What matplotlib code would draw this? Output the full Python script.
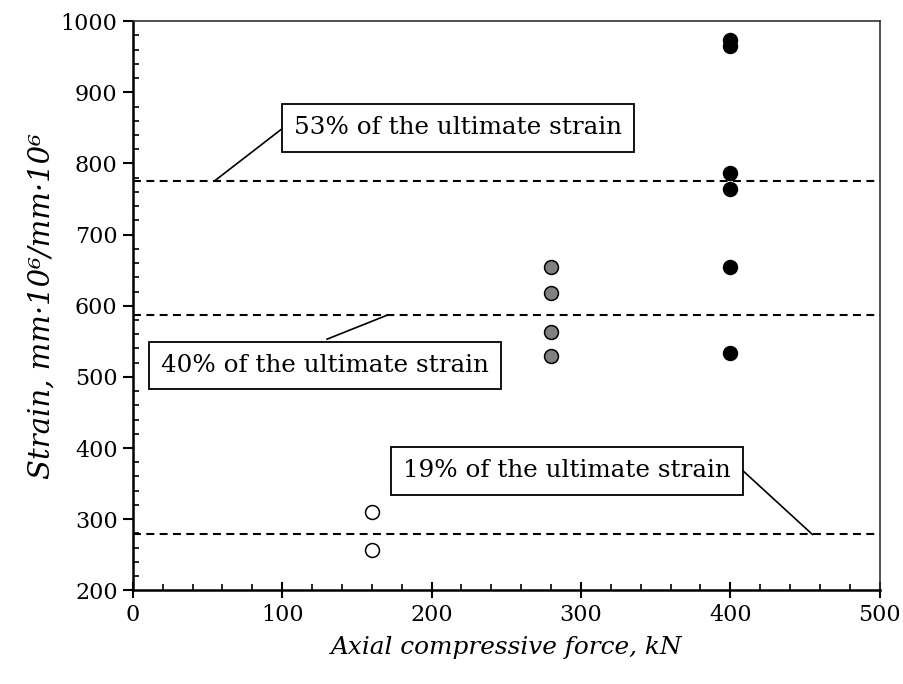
import matplotlib
matplotlib.use('Agg')
import matplotlib.pyplot as plt
from matplotlib.ticker import MultipleLocator

plt.rcParams['font.family'] = ['DejaVu Serif']

# force levels, kN
force_low = [160, 160]
force_mid = [280, 280, 280, 280]
force_high = [400, 400, 400, 400, 400, 400]

# measured strains
strain_low = [310, 257]
strain_mid = [655, 618, 563, 530]
strain_high = [973, 965, 786, 764, 655, 534]

# fractions of the ultimate strain
limit_levels = [776, 586.5, 278.5]
limit_labels = ['53% of the ultimate strain', '40% of the ultimate strain',
                '19% of the ultimate strain']

fig = plt.figure(figsize=(9.04, 6.84), dpi=100)
ax = fig.add_axes([0.147, 0.137, 0.826, 0.832])

for lvl in limit_levels:
    ax.plot([0, 500], [lvl, lvl], color='black', lw=1.5, ls=(0, (3.8, 2.6)), zorder=2)

ax.scatter(force_low, strain_low, s=100, facecolor='white', edgecolor='black', lw=1.1, zorder=3)
ax.scatter(force_mid, strain_mid, s=100, facecolor='#808080', edgecolor='black', lw=1.1, zorder=3)
ax.scatter(force_high, strain_high, s=100, facecolor='black', edgecolor='black', lw=1.1, zorder=3)

# boxed labels with leader lines
box = dict(boxstyle='square,pad=0.5', fc='white', ec='black', lw=1.3)
ax.plot([55, 100], [limit_levels[0], 849], color='black', lw=1.2, zorder=2)
ax.text(108, 850, limit_labels[0], fontsize=17.7, ha='left', va='center', bbox=box, zorder=4)
ax.plot([170, 130], [limit_levels[1], 553], color='black', lw=1.2, zorder=2)
ax.text(19, 516, limit_labels[1], fontsize=17.7, ha='left', va='center', bbox=box, zorder=4)
ax.plot([408, 455], [369, limit_levels[2]], color='black', lw=1.2, zorder=2)
ax.text(181, 368, limit_labels[2], fontsize=17.7, ha='left', va='center', bbox=box, zorder=4)

ax.set_xlim(0, 500)
ax.set_ylim(200, 1000)
ax.xaxis.set_major_locator(MultipleLocator(100))
ax.xaxis.set_minor_locator(MultipleLocator(20))
ax.yaxis.set_major_locator(MultipleLocator(100))
ax.yaxis.set_minor_locator(MultipleLocator(20))
ax.tick_params(axis='x', which='major', direction='inout', length=12, width=1.5, labelsize=16, pad=4)
ax.tick_params(axis='y', which='major', direction='out', length=7, width=1.5, labelsize=16, pad=4)
ax.tick_params(which='minor', direction='in', length=4, width=1.2)

for side in ['left', 'bottom']:
    ax.spines[side].set_linewidth(1.8)
for side in ['top', 'right']:
    ax.spines[side].set_linewidth(1.2)
    ax.spines[side].set_color('#333333')

ax.set_xlabel('Axial compressive force, kN', fontsize=17.8, style='italic', labelpad=7)
ax.set_ylabel('Strain, mm·10\u2076/mm·10\u2076', fontsize=21, style='italic', labelpad=4)

fig.savefig('out.png', dpi=100)
